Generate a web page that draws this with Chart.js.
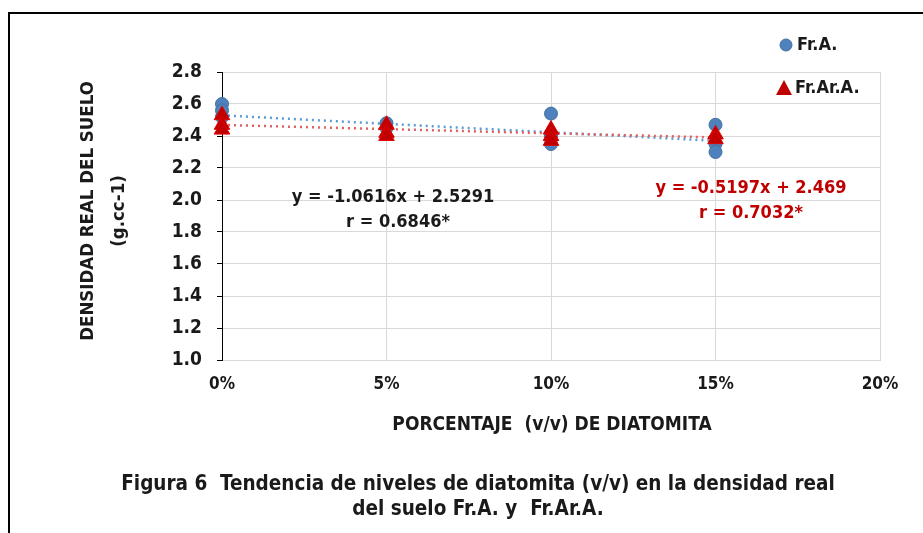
<!DOCTYPE html>
<html>
<head>
<meta charset="utf-8">
<script src="https://cdn.jsdelivr.net/npm/chart.js@4"></script>
<style>
  html, body { margin: 0; padding: 0; background: #fff; }
  #wrap { width: 923px; height: 533px; position: relative; }
</style>
</head>
<body>
<div id="wrap"><canvas id="densChart" width="923" height="533"></canvas></div>
<script>
// values (x = fraction of diatomite)
const frA_x = [0, 0, 0, 0.05, 0.05, 0.10, 0.10, 0.10, 0.15, 0.15, 0.15];
const frA_y = [2.60, 2.56, 2.52, 2.48, 2.45, 2.54, 2.40, 2.35, 2.47, 2.35, 2.30];
const frArA_x = [0, 0, 0, 0.05, 0.05, 0.05, 0.10, 0.10, 0.10, 0.15, 0.15];
const frArA_y = [2.53, 2.47, 2.44, 2.47, 2.42, 2.40, 2.44, 2.40, 2.37, 2.41, 2.38];

// trend equations printed on the chart
const trendA = { slope: -1.0616, icpt: 2.5291 };
const trendB = { slope: -0.5197, icpt: 2.469 };
const trendX = [0, 0.15];

const yTicks = [1.0, 1.2, 1.4, 1.6, 1.8, 2.0, 2.2, 2.4, 2.6, 2.8];
const xTicks = [0, 0.05, 0.10, 0.15, 0.20];

const FONT = "'Liberation Sans Narrow', 'DejaVu Sans Condensed', sans-serif";
const BLUE = "#4f81bd";
const RED = "#c00000";

function pts(xs, ys) {
  return xs.map((x, i) => ({ x: x, y: ys[i] }));
}
function trendPts(t) {
  return trendX.map((x) => ({ x: x, y: t.icpt + t.slope * x }));
}

// extra texts: frame, legend, axis titles, equations, caption
const extras = {
  id: "extras",
  afterDraw(chart) {
    const c = chart.ctx;
    c.save();
    // frame
    c.strokeStyle = "#000";
    c.lineWidth = 2;
    c.beginPath();
    c.moveTo(9, 540);
    c.lineTo(9, 13);
    c.lineTo(930, 13);
    c.stroke();

    // legend
    c.fillStyle = BLUE;
    c.strokeStyle = "#41719c";
    c.lineWidth = 1;
    c.beginPath();
    c.arc(786, 45, 6, 0, Math.PI * 2);
    c.fill();
    c.stroke();
    c.fillStyle = RED;
    c.beginPath();
    c.moveTo(784, 80);
    c.lineTo(792, 95);
    c.lineTo(776, 95);
    c.closePath();
    c.fill();

    c.fillStyle = "#1a1a1a";
    c.font = "bold 18px " + FONT;
    c.textBaseline = "middle";
    c.textAlign = "left";
    c.fillText("Fr.A.", 797, 45);
    c.fillText("Fr.Ar.A.", 795, 88);

    // equations
    c.textAlign = "center";
    c.fillText("y = -1.0616x + 2.5291", 393, 197);
    c.fillText("r = 0.6846*", 398, 222);
    c.fillStyle = RED;
    c.fillText("y = -0.5197x + 2.469", 751, 188);
    c.fillText("r = 0.7032*", 751, 213);

    // axis titles
    c.fillStyle = "#1a1a1a";
    c.font = "bold 19px " + FONT;
    c.fillText("PORCENTAJE  (v/v) DE DIATOMITA", 552, 425);
    c.save();
    c.translate(88, 211);
    c.rotate(-Math.PI / 2);
    c.font = "bold 18.5px " + FONT;
    c.fillText("DENSIDAD REAL DEL SUELO", 0, 0);
    c.fillText("(g.cc-1)", 0, 31);
    c.restore();

    // caption
    c.font = "bold 20.5px " + FONT;
    c.fillText("Figura 6  Tendencia de niveles de diatomita (v/v) en la densidad real", 478, 485);
    c.fillText("del suelo Fr.A. y  Fr.Ar.A.", 478, 510);
    c.restore();
  },
};

new Chart(document.getElementById("densChart"), {
  type: "scatter",
  data: {
    datasets: [
      {
        label: "Fr.A. tendencia",
        type: "line",
        order: 3,
        data: trendPts(trendA),
        borderColor: "#5b9bd5",
        borderWidth: 2.5,
        borderDash: [2, 4],
        pointRadius: 0,
        fill: false,
      },
      {
        label: "Fr.Ar.A. tendencia",
        type: "line",
        order: 2,
        data: trendPts(trendB),
        borderColor: "#e06060",
        borderWidth: 2.5,
        borderDash: [2, 4],
        pointRadius: 0,
        fill: false,
      },
      {
        label: "Fr.A.",
        order: 1,
        clip: false,
        data: pts(frA_x, frA_y),
        pointStyle: "circle",
        pointRadius: 6.5,
        backgroundColor: BLUE,
        borderColor: "#41719c",
        borderWidth: 1,
      },
      {
        label: "Fr.Ar.A.",
        order: 0,
        clip: false,
        data: pts(frArA_x, frArA_y),
        pointStyle: "triangle",
        pointRadius: 9,
        backgroundColor: RED,
        borderColor: "#e00000",
        borderWidth: 1,
      },
    ],
  },
  options: {
    responsive: false,
    animation: false,
    layout: { padding: { left: 162, right: 43, top: 72, bottom: 133 } },
    plugins: { legend: { display: false }, tooltip: { enabled: false } },
    scales: {
      x: {
        type: "linear",
        min: 0,
        max: 0.2,
        afterBuildTicks: (s) => { s.ticks = xTicks.map((v) => ({ value: v })); },
        afterFit: (s) => { s.height = 40; },
        grid: { color: "#d9d9d9", drawTicks: false },
        border: { color: "#d9d9d9" },
        ticks: {
          padding: 14,
          color: "#1a1a1a",
          font: { family: FONT, size: 17, weight: "bold" },
          callback: (v) => Math.round(v * 100) + "%",
        },
      },
      y: {
        min: 1,
        max: 2.8,
        afterBuildTicks: (s) => { s.ticks = yTicks.map((v) => ({ value: v })); },
        afterFit: (s) => { s.width = 60; },
        grid: { color: "#d9d9d9", tickColor: "#000", tickLength: 5 },
        border: { color: "#000", width: 1 },
        ticks: {
          padding: 15,
          color: "#1a1a1a",
          font: { family: FONT, size: 19, weight: "bold" },
          callback: (v) => Number(v).toFixed(1),
        },
      },
    },
  },
  plugins: [extras],
});
</script>
</body>
</html>
